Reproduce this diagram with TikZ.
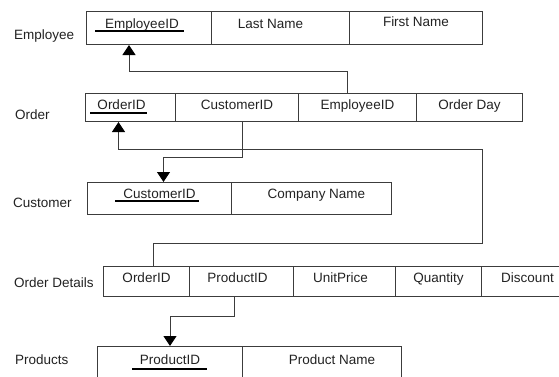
\documentclass[tikz,border=0pt]{standalone}
\usepackage{fontspec}
\setmainfont{Liberation Sans}
\usetikzlibrary{arrows.meta}
\definecolor{linegray}{HTML}{3C3C3C}
\definecolor{textgray}{HTML}{222222}
\tikzset{
  cell/.style={draw=linegray, line width=1pt, rectangle, inner sep=0pt, anchor=north west, text=textgray, text height=9pt, text depth=9pt},
  tname/.style={anchor=base west, inner sep=0pt, text=textgray},
  fk/.style={draw=linegray, line width=1pt, -{Triangle[width=13pt,length=10pt,color=black]}},
  key/.style={draw=black, line width=1.2pt}
}
\begin{document}
\begin{tikzpicture}[x=1pt, y=-1pt, font=\fontsize{13.5}{16}\selectfont]
\useasboundingbox (0,0) rectangle (559,376);
\node[tname] (employee) at (14,39) {Employee};
\node[cell, minimum width=125pt, minimum height=33pt] (emp1) at (86,11) {\hspace*{-14pt}EmployeeID};
\node[cell, minimum width=138pt, minimum height=33pt] (emp2) at (211,11) {\hspace*{-20pt}Last Name};
\node[cell, minimum width=133pt, minimum height=33pt, text depth=13pt] (emp3) at (349,11) {First Name};
\draw[key] (95,31) -- (184,31);
\node[tname] (order) at (15,119) {Order};
\node[cell, minimum width=90pt, minimum height=28pt, text height=10pt, text depth=6pt] (ord1) at (85,93) {\hspace*{-18pt}OrderID};
\node[cell, minimum width=123pt, minimum height=28pt, text height=10pt, text depth=6pt] (ord2) at (175,93) {CustomerID};
\node[cell, minimum width=118pt, minimum height=28pt, text height=10pt, text depth=6pt] (ord3) at (298,93) {EmployeeID};
\node[cell, minimum width=106pt, minimum height=28pt, text height=10pt, text depth=6pt] (ord4) at (416,93) {Order Day};
\draw[key] (90,113) -- (147,113);
\node[tname] (customer) at (13,207) {Customer};
\node[cell, minimum width=144pt, minimum height=32pt] (cus1) at (87,182) {CustomerID};
\node[cell, minimum width=160pt, minimum height=32pt] (cus2) at (231,182) {\hspace*{10pt}Company Name};
\draw[key] (115,201) -- (199,201);
\node[tname] (details) at (14,287) {Order Details};
\node[cell, minimum width=86pt, minimum height=30pt, text height=10pt, text depth=8pt] (det1) at (103,266) {OrderID};
\node[cell, minimum width=104pt, minimum height=30pt, text height=10pt, text depth=8pt] (det2) at (189,266) {\hspace*{-8pt}ProductID};
\node[cell, minimum width=102pt, minimum height=30pt, text height=10pt, text depth=8pt] (det3) at (293,266) {\hspace*{-8pt}UnitPrice};
\node[cell, minimum width=86pt, minimum height=30pt, text height=10pt, text depth=8pt] (det4) at (395,266) {Quantity};
\node[cell, minimum width=92pt, minimum height=30pt, text height=10pt, text depth=8pt] (det5) at (481,266) {Discount};
\node[tname] (products) at (15,364) {Products};
\node[cell, minimum width=145pt, minimum height=36pt] (prd1) at (97,346) {ProductID};
\node[cell, minimum width=159pt, minimum height=36pt] (prd2) at (242,346) {\hspace*{20pt}Product Name};
\draw[key] (132,369) -- (207,369);
% foreign keys
\draw[fk] ([xshift=-10pt]ord3.north) -- ++(0,-22) -| ([xshift=-20pt]emp1.south);
\draw[fk] ([xshift=5pt]ord2.south) -- ++(0,35) -| ([xshift=4pt]cus1.north);
\draw[fk] ([xshift=7pt]det1.north) -- ++(0,-23) -- ++(329,0) -- ++(0,-94) -| ([xshift=-12pt]ord1.south);
\draw[fk] ([xshift=-7pt]det2.south) -- ++(0,19) -| (prd1.north);
\end{tikzpicture}
\end{document}
